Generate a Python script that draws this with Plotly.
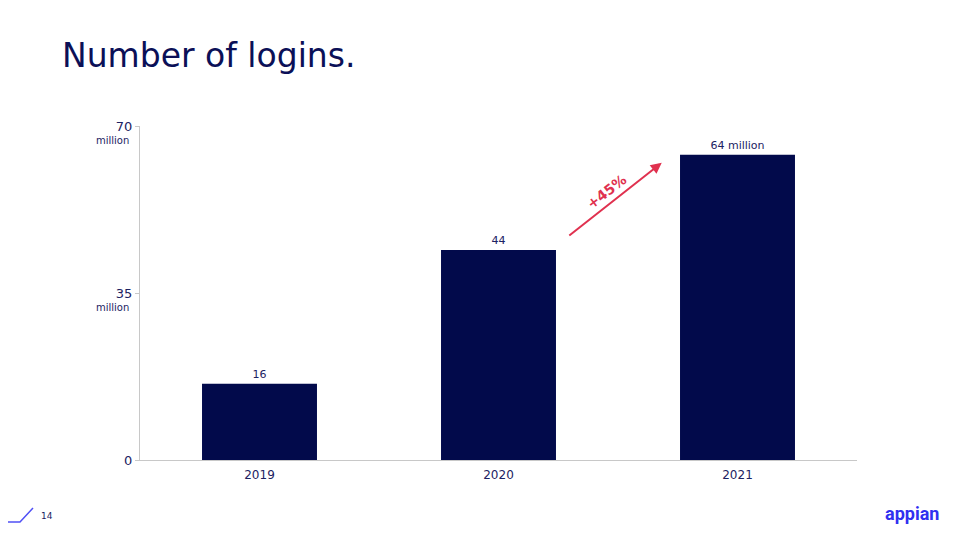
import plotly.graph_objects as go

years = ["2019", "2020", "2021"]
logins = [16, 44, 64]
bar_labels = ["16", "44", "64 million"]
y_ticks = [0, 35, 70]
y_tick_text = ["0", "35", "70"]
growth_label = "+45%"

NAVY = "#020a4b"
TEXT = "#1c2262"
RED = "#e0314f"
FONT = "DejaVu Sans"

OFF = 8  # page body margin
L, R, T, B = 140, 103, 126, 80
PW, PH = 960 - L - R, 540 - T - B


def px(x):
    return (x - L) / PW


def py(y):
    return (540 - B - y) / PH


fig = go.Figure()
fig.add_trace(go.Bar(
    x=years, y=logins, text=bar_labels, textposition="outside",
    marker=dict(color=NAVY, line=dict(width=0)),
    textfont=dict(family=FONT, size=11, color=TEXT),
    width=0.481, cliponaxis=False,
))

annotations = [
    dict(text="Number of logins.", xref="paper", yref="paper",
         x=px(60), y=py(55), xanchor="left", yanchor="middle", showarrow=False,
         font=dict(family=FONT, size=33, color="#0b1057")),
    dict(text=growth_label, xref="x", yref="y", x=1.45, y=56.2,
         textangle=-38, showarrow=False,
         font=dict(family=FONT, size=14, color=RED, weight="bold")),
    dict(text="", xref="x", yref="y", axref="x", ayref="y",
         x=1.683, y=62.3, ax=1.29, ay=46.8, showarrow=True,
         arrowhead=2, arrowsize=1.1, arrowwidth=2, arrowcolor=RED),
    dict(text="14", xref="paper", yref="paper", x=px(39), y=py(516),
         xanchor="left", yanchor="middle", showarrow=False,
         font=dict(family=FONT, size=9, color=TEXT)),
    dict(text="<b>appian</b>", xref="paper", yref="paper", x=px(912), y=py(513),
         xanchor="center", yanchor="middle", showarrow=False,
         font=dict(family="Roboto", size=18, color="#3030f0")),
]
for v in y_ticks[1:]:
    annotations.append(dict(text="million", xref="paper", yref="y", x=px(131), y=v,
                            yshift=-14, xanchor="right", yanchor="middle", showarrow=False,
                            font=dict(family=FONT, size=10, color=TEXT)))

fig.update_layout(
    width=960, height=540,
    margin=dict(l=L - OFF, r=R + OFF, t=T - OFF, b=B + OFF),
    paper_bgcolor="white", plot_bgcolor="white",
    showlegend=False,
    annotations=annotations,
    shapes=[dict(type="path", xref="paper", yref="paper",
                 path=f"M {px(0)} {py(522)} L {px(20)} {py(522)} L {px(33)} {py(508)}",
                 line=dict(color="#5050f5", width=1.5))],
    xaxis=dict(showline=True, linecolor="#c8c8c8", linewidth=1, ticks="",
               tickfont=dict(family=FONT, size=12, color=TEXT), showgrid=False,
               ticklabelstandoff=4, range=[-0.5, 2.5]),
    yaxis=dict(range=[0, 70], tickvals=y_ticks, ticktext=y_tick_text,
               showline=True, linecolor="#c8c8c8", linewidth=1,
               ticks="outside", ticklen=4, tickcolor="#c8c8c8",
               tickfont=dict(family=FONT, size=13, color=TEXT),
               showgrid=False, zeroline=False),
)

fig.write_html("out.html")
